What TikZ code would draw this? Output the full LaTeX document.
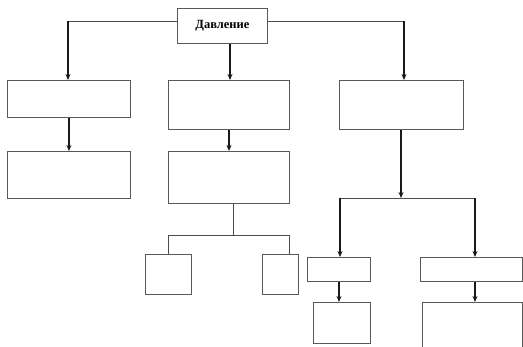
\documentclass[tikz,border=0pt]{standalone}
\usepackage{fontspec}
\setmainfont{Liberation Serif}
\usetikzlibrary{arrows.meta}
\begin{document}
\begin{tikzpicture}[x=1pt,y=-1pt,
  box/.style={draw=black!65, line width=0.9pt, rectangle, inner sep=0pt, anchor=north west, fill=none},
  arr/.style={draw=black!90, line width=1.3pt, -{Stealth[length=6pt,width=5pt]}},
  ln/.style={draw=black!70, line width=0.9pt}]
\useasboundingbox (0,0) rectangle (523,347);
\clip (0,0) rectangle (523,347);
% boxes
\node[box, minimum width=90pt, minimum height=35pt] (top) at (177,8) {};
\node at (top.center) {\fontsize{12.5}{13}\selectfont\bfseries Давление};
\node[box, minimum width=123pt, minimum height=37pt] (L1) at (7,80) {};
\node[box, minimum width=123pt, minimum height=47pt] (L2) at (7,151) {};
\node[box, minimum width=121pt, minimum height=49pt] (M1) at (168,80) {};
\node[box, minimum width=121pt, minimum height=52pt] (M2) at (168,151) {};
\node[box, minimum width=46pt, minimum height=40pt] (S1) at (145,254) {};
\node[box, minimum width=36pt, minimum height=40pt] (S2) at (262,254) {};
\node[box, minimum width=124pt, minimum height=49pt] (R1) at (339,80) {};
\node[box, minimum width=63pt, minimum height=24pt] (RA1) at (307,257) {};
\node[box, minimum width=57pt, minimum height=41pt] (RA2) at (313,302) {};
\node[box, minimum width=102pt, minimum height=24pt] (RB1) at (420,257) {};
\node[box, minimum width=100pt, minimum height=50pt] (RB2) at (422,302) {};
% junction coordinates
\coordinate (jl) at (68,21);
\coordinate (jr) at (404,21);
\coordinate (mj) at (233,235);
\coordinate (mjl) at (168,235);
\coordinate (mjr) at (289,235);
\coordinate (rj) at (401,198);
\coordinate (rjl) at (340,198);
\coordinate (rjr) at (475,198);
% connectors
\draw[ln] (top.west |- jl) -- (jl);
\draw[arr] (jl) -- (jl |- L1.north);
\draw[ln] (top.east |- jr) -- (jr);
\draw[arr] (jr) -- (jr |- R1.north);
\draw[arr] (top.south -| 230,0) -- (230,0 |- M1.north);
\draw[arr] (L1.south) -- (L2.north);
\draw[arr] (229,0 |- M1.south) -- (229,0 |- M2.north);
\draw[ln] (mj |- M2.south) -- (mj);
\draw[ln] (mjl |- S1.north) -- (mjl) -- (mjr) -- (mjr |- S2.north);
\draw[arr] (rj |- R1.south) -- (rj);
\draw[ln] (rjl) -- (rjr);
\draw[arr] (rjl) -- (rjl |- RA1.north);
\draw[arr] (rjr) -- (rjr |- RB1.north);
\draw[arr] (339,0 |- RA1.south) -- (339,0 |- RA2.north);
\draw[arr] (rjr |- RB1.south) -- (rjr |- RB2.north);
\end{tikzpicture}
\end{document}
